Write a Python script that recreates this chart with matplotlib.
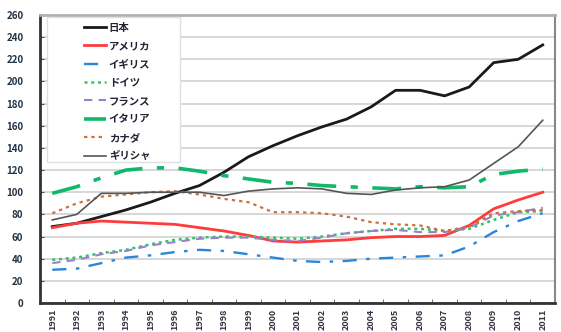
import matplotlib
matplotlib.use("Agg")
import matplotlib.pyplot as plt
from matplotlib.patches import FancyBboxPatch

plt.rcParams['font.family'] = ['Noto Sans CJK JP', 'DejaVu Sans']

years = [str(y) for y in range(1991, 2012)]
japan   = [69, 72, 78, 84, 91, 99, 106, 118, 132, 142, 151, 159, 166, 177, 192, 192, 187, 195, 217, 220, 233]
usa     = [68, 72, 74, 73, 72, 71, 68, 65, 61, 56, 55, 56, 57, 59, 60, 60, 61, 70, 85, 93, 100]
uk      = [30, 31, 36, 41, 43, 46, 48, 47, 44, 41, 38, 37, 38, 40, 41, 42, 43, 51, 64, 74, 81]
germany = [39, 41, 45, 48, 53, 57, 59, 60, 60, 59, 58, 60, 63, 65, 67, 67, 65, 67, 75, 82, 83]
france  = [36, 39, 44, 47, 52, 55, 58, 59, 59, 57, 56, 59, 63, 65, 66, 64, 64, 68, 79, 82, 86]
italy   = [99, 105, 113, 120, 122, 122, 119, 115, 112, 109, 108, 106, 105, 104, 103, 105, 104, 105, 116, 119, 121]
canada  = [81, 90, 96, 98, 100, 101, 98, 94, 91, 82, 82, 81, 78, 73, 71, 70, 65, 69, 81, 83, 84]
greece  = [75, 80, 99, 99, 100, 100, 100, 97, 101, 103, 104, 103, 99, 98, 102, 104, 105, 111, 126, 141, 165]

names = ['日本', 'アメリカ', 'イギリス', 'ドイツ', 'フランス', 'イタリア', 'カナダ', 'ギリシャ']
series = [japan, usa, uk, germany, france, italy, canada, greece]
styles = [
    dict(color='#1a1a1a', lw=2.0, ls='-'),
    dict(color='#ff3b3b', lw=2.0, ls='-'),
    dict(color='#2a86d8', lw=1.7, ls=(0, (6, 4, 1.5, 4))),
    dict(color='#2fc46a', lw=1.8, ls=(0, (1.2, 1.5))),
    dict(color='#9b7fc8', lw=1.5, ls=(0, (4, 3))),
    dict(color='#10b86a', lw=2.6, ls=(0, (8, 4, 2, 4))),
    dict(color='#c8743e', lw=1.6, ls=(0, (1.5, 1.8))),
    dict(color='#555555', lw=1.2, ls='-'),
]

fig = plt.figure(figsize=(5.61, 3.32), dpi=100)
ax = fig.add_axes([40/561, 29/332, 515/561, 288/332])

x = list(range(len(years)))
handles = []
for s, n, st in zip(series, names, styles):
    h, = ax.plot(x, s, color=st['color'], lw=st['lw'], linestyle=st['ls'], label=n)
    handles.append(h)

ax.set_xlim(-0.5, len(years) - 0.5)
ax.set_ylim(0, 260)
ax.set_yticks(range(0, 261, 20))
ax.yaxis.grid(True, color='#d4d4d4', lw=1.3)
ax.set_axisbelow(True)

ax.set_xticks(x)
ax.set_xticklabels(years, rotation=90, fontsize=6.5, fontweight='bold', color='#333344')
ax.tick_params(axis='x', length=0, pad=4)
ax.set_xticks([i + 0.5 for i in x[:-1]], minor=True)
ax.tick_params(axis='x', which='minor', direction='in', length=3, color='#555555')
ax.tick_params(axis='y', direction='in', length=3, color='#555555', pad=12,
               labelsize=7, labelcolor='#223344')
for lab in ax.get_yticklabels():
    lab.set_fontweight('bold')

ax.spines['left'].set_color('#333333')
ax.spines['left'].set_linewidth(2)
ax.spines['bottom'].set_color('#333333')
ax.spines['bottom'].set_linewidth(2)
ax.spines['top'].set_color('#b0b0b0')
ax.spines['top'].set_linewidth(2)
ax.spines['right'].set_color('#888888')
ax.spines['right'].set_linewidth(1.5)

box = FancyBboxPatch((7/515, (303-162)/288), 133/515, 145/288,
                     boxstyle='square,pad=0', transform=ax.transAxes,
                     facecolor='white', edgecolor='#e0e0e0', lw=1, zorder=3)
ax.add_patch(box)
leg = ax.legend(handles=handles, loc='upper left', bbox_to_anchor=(36/515, 1.0),
                frameon=False, fontsize=7.5, handlelength=2.1, handletextpad=0.3,
                labelspacing=0.8, borderaxespad=0.35)
leg.set_zorder(4)
for t in leg.get_texts():
    t.set_fontweight('bold')
    t.set_color('#222233')

fig.savefig('out.png', dpi=100)
